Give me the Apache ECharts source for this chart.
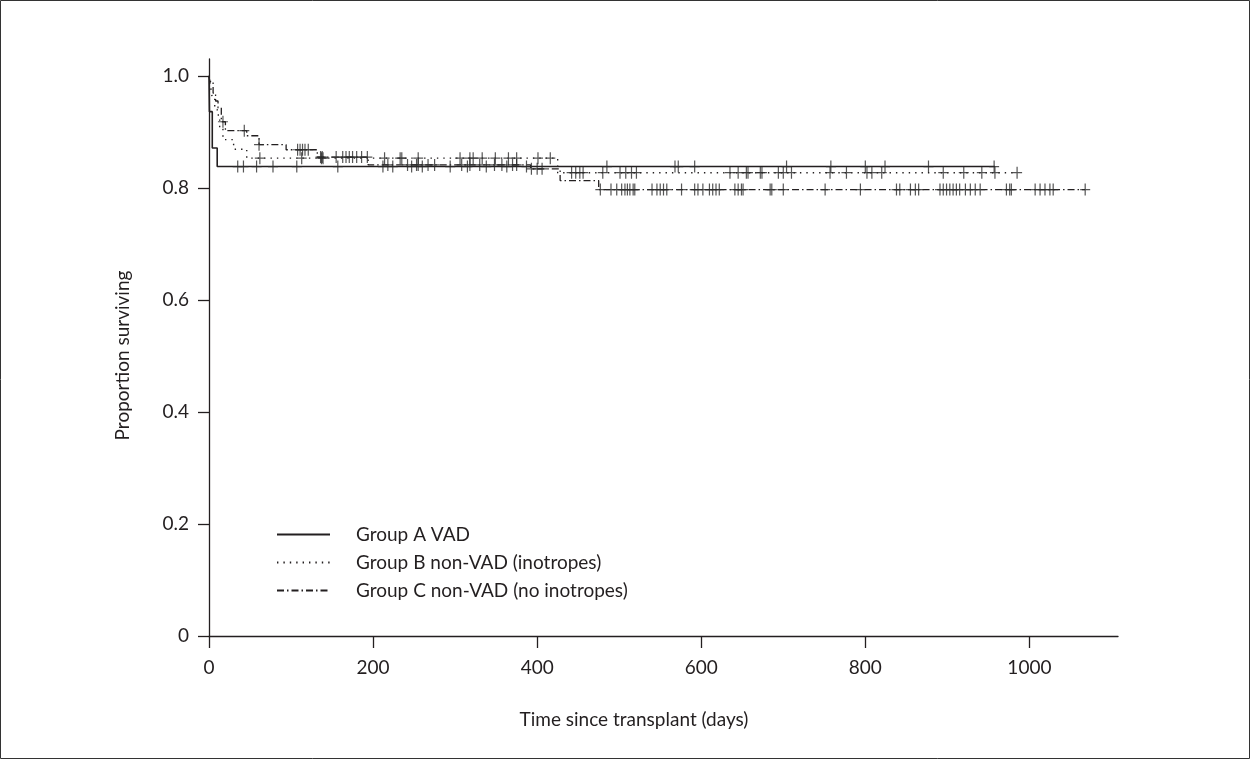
<!DOCTYPE html>
<html>
<head>
<meta charset="utf-8">
<script src="https://cdn.jsdelivr.net/npm/echarts@6/dist/echarts.min.js"></script>
<style>
html,body{margin:0;padding:0;background:#fff;}
#chart{width:1251px;height:760px;}
</style>
</head>
<body>
<div id="chart"></div>
<script>
// ---- Data ----
const seriesNames = ['Group A VAD', 'Group B non-VAD (inotropes)', 'Group C non-VAD (no inotropes)'];

// Kaplan–Meier step points: time (days) and survival after the step
const timesA = [0, 0.5, 4, 10, 958];
const survA  = [1.0, 0.936, 0.871, 0.838, 0.838];

const timesB = [0, 2, 4, 7, 10, 13, 17, 30, 46, 425, 985];
const survB  = [1.0, 0.98, 0.96, 0.94, 0.93, 0.905, 0.886, 0.869, 0.853, 0.827, 0.827];

const timesC = [0, 1, 5, 8, 11, 15, 20, 46, 61, 94, 132, 194, 392, 428, 475, 1068];
const survC  = [1.0, 0.99, 0.969, 0.955, 0.943, 0.918, 0.902, 0.893, 0.877, 0.868, 0.855, 0.841, 0.834, 0.813, 0.797, 0.797];

// Censoring times (days)
const censorA = [35, 42, 58, 78, 107, 157, 212, 224, 247, 260, 294, 315, 338, 363, 387, 485, 568, 572, 592, 704, 758, 800, 824, 877, 957];
const censorB = [62, 113, 137, 139, 214, 233, 235, 255, 306, 318, 322, 333, 349, 365, 375, 401, 416, 442, 447, 452, 456, 480, 501, 508, 515, 521,
                 635, 645, 655, 657, 672, 674, 694, 700, 710, 757, 777, 802, 808, 820, 895, 920, 942, 958, 985];
const censorC = [17, 43, 61, 108, 111, 114, 117, 121, 136, 138, 155, 163, 167, 171, 175, 180, 186, 193, 218, 242, 253, 255, 267, 275, 308, 318,
                 330, 348, 357, 370, 375, 393, 400, 406, 477, 490, 497, 503, 507, 510, 513, 517, 519, 540, 546, 550, 554, 558, 576, 592, 596,
                 602, 610, 614, 618, 622, 641, 645, 649, 651, 684, 686, 700, 751, 794, 838, 842, 855, 861, 865, 891, 895, 899, 903, 907, 911,
                 915, 922, 928, 934, 940, 972, 976, 978, 1007, 1013, 1019, 1025, 1029, 1068];

const xTicks = [0, 200, 400, 600, 800, 1000];
const yTicks = [0, 0.2, 0.4, 0.6, 0.8, 1.0];
const yTickLabels = ['0', '0.2', '0.4', '0.6', '0.8', '1.0'];

// ---- Helpers ----
function zip(t, s) { return t.map((v, i) => [v, s[i]]); }
function survAt(t, times, surv) {
  let v = surv[0];
  for (let i = 0; i < times.length; i++) { if (times[i] <= t) v = surv[i]; }
  return v;
}
function censorPts(c, times, surv) { return c.map(t => [t, survAt(t, times, surv)]); }

const INK = '#231f20';
const FONT = 'Lato';
const CROSS = 'path://M4.4,0 H5.6 V5.4 H10 V6.6 H5.6 V12 H4.4 V6.6 H0 V5.4 H4.4 Z';

const lineStyles = [
  { color: INK, width: 1.6, type: 'solid' },
  { color: INK, width: 1.4, type: [1.4, 5] },
  { color: INK, width: 1.3, type: [7, 3, 1.5, 3] }
];

const chart = echarts.init(document.getElementById('chart'), null, { renderer: 'canvas' });

function kmSeries(name, times, surv, ls) {
  return {
    name: name, type: 'line', step: 'end', symbol: 'none', showSymbol: false,
    data: zip(times, surv), lineStyle: ls, itemStyle: { color: ls.color },
    animation: false, z: 3
  };
}
function censorSeries(c, times, surv) {
  return {
    type: 'scatter', data: censorPts(c, times, surv), symbol: CROSS, symbolSize: [10, 12],
    itemStyle: { color: '#2a2a2a' }, animation: false, silent: true, z: 4
  };
}

chart.setOption({
  backgroundColor: '#ffffff',
  animation: false,
  textStyle: { fontFamily: FONT },
  grid: { left: 209, right: 133, top: 59, bottom: 124, containLabel: false },
  xAxis: {
    type: 'value', min: 0, max: 1108,
    name: 'Time since transplant (days)', nameLocation: 'middle', nameGap: 74,
    nameTextStyle: { fontSize: 19, color: INK, fontFamily: FONT, padding: [0, 59, 0, 0] },
    axisLine: { show: true, lineStyle: { color: INK, width: 1.3 } },
    axisTick: { show: true, length: 12, inside: false, lineStyle: { color: INK, width: 1.3 }, customValues: xTicks },
    axisLabel: { color: INK, fontSize: 19, fontFamily: FONT, margin: 22, customValues: xTicks, formatter: v => String(v) },
    splitLine: { show: false }
  },
  yAxis: {
    type: 'value', min: 0, max: 1.03,
    name: 'Proportion surviving', nameLocation: 'middle', nameGap: 77,
    nameTextStyle: { fontSize: 19, color: INK, fontFamily: FONT, padding: [0, 16, 0, 0] },
    axisLine: { show: true, lineStyle: { color: INK, width: 1.3 } },
    axisTick: { show: true, length: 11, inside: false, lineStyle: { color: INK, width: 1.3 }, customValues: yTicks },
    axisLabel: { color: INK, fontSize: 19, fontFamily: FONT, margin: 20, customValues: yTicks,
      formatter: v => { const i = yTicks.findIndex(t => Math.abs(t - v) < 1e-9); return i >= 0 ? yTickLabels[i] : ''; } },
    splitLine: { show: false }
  },
  legend: {
    data: seriesNames, orient: 'vertical', left: 276, top: 525, padding: 0,
    itemWidth: 53, itemHeight: 14, itemGap: 9,
    itemStyle: { opacity: 0 },
    textStyle: { fontSize: 19, lineHeight: 19, color: INK, fontFamily: FONT, padding: [0, 0, 0, 21] },
    selectedMode: false
  },
  graphic: [{
    type: 'rect', shape: { x: 0.5, y: 0.5, width: 1249, height: 758 },
    style: { fill: 'none', stroke: '#333', lineWidth: 1 }, silent: true
  }],
  series: [
    kmSeries(seriesNames[0], timesA, survA, lineStyles[0]),
    kmSeries(seriesNames[1], timesB, survB, lineStyles[1]),
    kmSeries(seriesNames[2], timesC, survC, lineStyles[2]),
    censorSeries(censorA, timesA, survA),
    censorSeries(censorB, timesB, survB),
    censorSeries(censorC, timesC, survC)
  ]
});
</script>
</body>
</html>
